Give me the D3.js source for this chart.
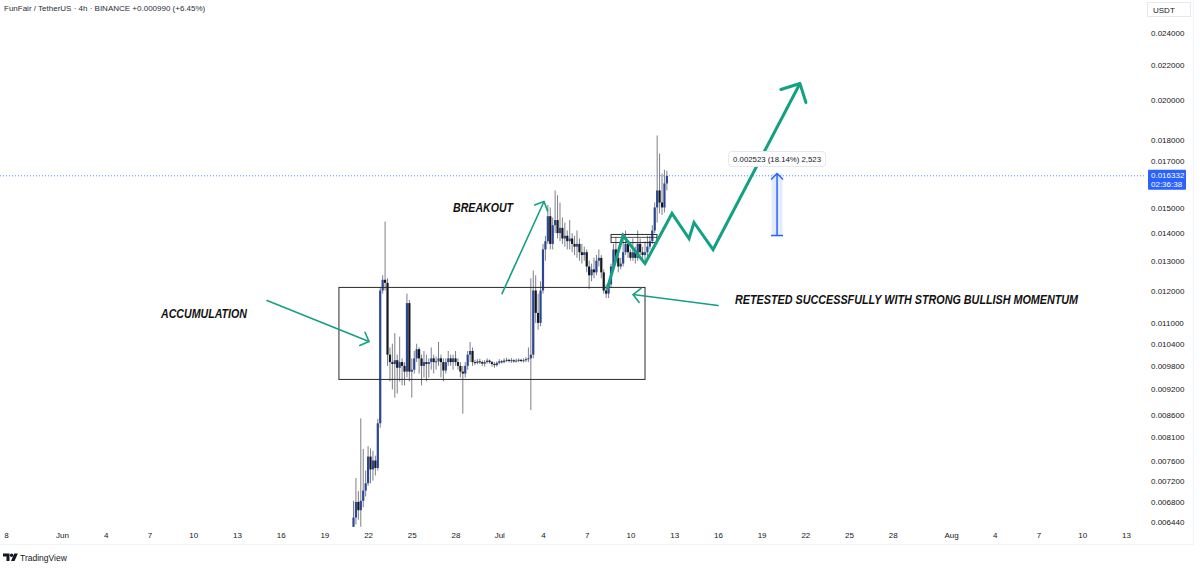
<!DOCTYPE html>
<html><head><meta charset="utf-8">
<script src="https://cdn.jsdelivr.net/npm/d3@7"></script>
<style>
body{margin:0;background:#fff;}
svg{display:block;}
text{font-family:"Liberation Sans",Arial,sans-serif;}
</style>
</head><body>
<svg id="c" width="1200" height="568"></svg>
<script>
// ---------- DATA ----------
const title = "FunFair / TetherUS · 4h · BINANCE";
const changeText = "+0.000990 (+6.45%)";
const quoteUnit = "USDT";
const countdown = "02:36:38";
const firstBar = Date.UTC(2024, 5, 21, 0, 0); // first 4h candle
const barHours = 4;

const open = [
 .00636,.00652,.00680,.00665,.00682,.00701,.00715,.00768,.00742,.00760,
 .00745,.00840,.01200,.01235,.01225,.01010,.00990,.00985,.00995,.00975,
 .00990,.00980,.00965,.01160,.00965,.00970,.01000,.01025,.01000,.00980,
 .00990,.00985,.00990,.01000,.00990,.00992,.01000,.00990,.00968,.00990,
 .01000,.00990,.01000,.00990,.00980,.00965,.00960,.00980,.01010,.01020,
 .00990,.00988,.00992,.00990,.00986,.00990,.00994,.00990,.00985,.00982,
 .00988,.00992,.00990,.00994,.00996,.00993,.00995,.00992,.00994,.00996,
 .00993,.00995,.00998,.01000,.01010,.01200,.01130,.01100,.01200,.01340,
 .01370,.01465,.01360,.01430,.01450,.01400,.01420,.01380,.01390,.01370,
 .01380,.01360,.01350,.01360,.01330,.01320,.01330,.01280,.01250,.01270,
 .01260,.01300,.01310,.01260,.01200,.01190,.01220,.01280,.01340,.01310,
 .01280,.01290,.01330,.01360,.01330,.01310,.01330,.01310,.01360,.01330,
 .01320,.01330,.01350,.01370,.01410,.01500,.01570,.01520,.01500,.01600
];
const high = [
 .00682,.00725,.00700,.00851,.00784,.00740,.00790,.00785,.00780,.00770,
 .00850,.01210,.01250,.01444,.01240,.01030,.01040,.01070,.01010,.01060,
 .01000,.00990,.01190,.01170,.01000,.01020,.01040,.01030,.01010,.01020,
 .01010,.01000,.01030,.01010,.01005,.01045,.01010,.01000,.01000,.01020,
 .01010,.01010,.01020,.01000,.00990,.00980,.00990,.01020,.01045,.01030,
 .00996,.00998,.00999,.00994,.00995,.01000,.00997,.00993,.00990,.00992,
 .00998,.00996,.01000,.01002,.00999,.01001,.00998,.00999,.01000,.00999,
 .01000,.01003,.01030,.01240,.01266,.01250,.01190,.01230,.01360,.01390,
 .01510,.01500,.01460,.01570,.01550,.01520,.01460,.01440,.01410,.01450,
 .01400,.01390,.01410,.01380,.01360,.01350,.01340,.01300,.01290,.01310,
 .01320,.01340,.01320,.01270,.01220,.01230,.01290,.01360,.01386,.01330,
 .01310,.01400,.01410,.01370,.01340,.01380,.01350,.01410,.01380,.01350,
 .01370,.01390,.01390,.01430,.01520,.01820,.01734,.01643,.01660,.01655
];
const low = [
 .00630,.00640,.00648,.00636,.00670,.00690,.00710,.00715,.00720,.00730,
 .00740,.00830,.01190,.01200,.00980,.00940,.00920,.00900,.00910,.00940,
 .00930,.00930,.00950,.00940,.00900,.00960,.00990,.00960,.00930,.00950,
 .00940,.00950,.00970,.00960,.00970,.00980,.00950,.00940,.00960,.00980,
 .00980,.00970,.00980,.00970,.00950,.00862,.00950,.00970,.00990,.00980,
 .00982,.00984,.00985,.00980,.00978,.00986,.00986,.00978,.00975,.00978,
 .00984,.00986,.00987,.00990,.00989,.00988,.00988,.00989,.00990,.00990,
 .00989,.00990,.00990,.00870,.01000,.01100,.01080,.01090,.01190,.01300,
 .01360,.01340,.01340,.01400,.01380,.01370,.01360,.01350,.01340,.01340,
 .01330,.01320,.01310,.01300,.01290,.01300,.01260,.01205,.01230,.01240,
 .01250,.01280,.01240,.01190,.01176,.01176,.01210,.01270,.01300,.01260,
 .01270,.01280,.01320,.01310,.01300,.01300,.01290,.01300,.01320,.01300,
 .01300,.01310,.01340,.01360,.01400,.01440,.01476,.01470,.01480,.01570
];
const close = [
 .00652,.00680,.00665,.00682,.00701,.00715,.00768,.00742,.00760,.00745,
 .00840,.01200,.01235,.01225,.01010,.00990,.00985,.00995,.00975,.00990,
 .00980,.00965,.01160,.00965,.00970,.01000,.01025,.01000,.00980,.00990,
 .00985,.00990,.01000,.00990,.00992,.01000,.00990,.00968,.00990,.01000,
 .00990,.01000,.00990,.00980,.00965,.00960,.00980,.01010,.01020,.00990,
 .00988,.00992,.00990,.00986,.00990,.00994,.00990,.00985,.00982,.00988,
 .00992,.00990,.00994,.00996,.00993,.00995,.00992,.00994,.00996,.00993,
 .00995,.00998,.01000,.01010,.01200,.01130,.01100,.01200,.01340,.01370,
 .01465,.01360,.01430,.01450,.01400,.01420,.01380,.01390,.01370,.01380,
 .01360,.01350,.01360,.01330,.01320,.01330,.01280,.01250,.01270,.01260,
 .01300,.01310,.01260,.01200,.01190,.01220,.01280,.01340,.01310,.01280,
 .01290,.01330,.01360,.01330,.01310,.01330,.01310,.01360,.01330,.01320,
 .01330,.01350,.01370,.01410,.01500,.01570,.01520,.01500,.01600,.016332
];
const lastPrice = 0.016332;

const priceTicks = [0.024,0.022,0.020,0.018,0.017,0.015,0.014,0.013,0.012,0.011,
  0.0104,0.0098,0.0092,0.0086,0.0081,0.0076,0.0072,0.0068,0.00644];
const dateTicks = ["2024-05-28","2024-06-01","2024-06-04","2024-06-07","2024-06-10","2024-06-13",
  "2024-06-16","2024-06-19","2024-06-22","2024-06-25","2024-06-28","2024-07-01","2024-07-04",
  "2024-07-07","2024-07-10","2024-07-13","2024-07-16","2024-07-19","2024-07-22","2024-07-25",
  "2024-07-28","2024-08-01","2024-08-04","2024-08-07","2024-08-10","2024-08-13"];

// annotations in data space: [days after Jun 1, price]
const accumBox = [[19.0, 0.0121],[40.0, 0.00945]];
const smallBox = [[37.67, 0.01395],[40.82, 0.01365]];
const smallBoxMid = 0.01384;
const arrowAccum = [[14.07, 0.01168],[21.06, 0.010464]];
const arrowBreak = [[30.19, 0.0119],[33.07, 0.01524]];
const arrowRetest = [[45.01, 0.011525],[39.18, 0.01187]];
const projection = [[37.39,0.01203],[38.49,0.01391],[40.0,0.0129],[41.85,0.014758],
  [43.02,0.0138],[43.36,0.014405],[44.67,0.013397],[50.63,0.020928]];
const measureDay = 49.06, measureFrom = 0.013909, measureTo = 0.016432;
const labels = [
  {text:"ACCUMULATION", at:[6.79, 0.01116], w:86},
  {text:"BREAKOUT", at:[26.83, 0.0148], w:60},
  {text:"RETESTED SUCCESSFULLY WITH STRONG BULLISH MOMENTUM", at:[46.18, 0.011588], w:343}
];

// ---------- CHART ----------
const svg = d3.select("#c");
const plotRight = 1146, plotBottom = 527;
const day0 = Date.UTC(2024,5,1);
const x = d3.scaleUtc().domain([new Date(day0), new Date(Date.UTC(2024,7,13))]).range([62,1126]);
const y = d3.scaleLog().domain([0.012, 0.024]).range([290.5, 32.5]);
const X = d => x(new Date(day0 + d*86400000));
const P = p => [X(p[0]), y(p[1])];

svg.append("rect").attr("width",1200).attr("height",568).attr("fill","#fff");
const defs = svg.append("defs");
defs.append("clipPath").attr("id","clip")
  .append("rect").attr("x",0).attr("y",0).attr("width",plotRight).attr("height",plotBottom);
defs.append("clipPath").attr("id","xclip")
  .append("rect").attr("x",4.3).attr("y",520).attr("width",1140).attr("height",30);

// faint frame
svg.append("line").attr("x1",0).attr("x2",1193).attr("y1",544.5).attr("y2",544.5).attr("stroke","#f0f3fa");
svg.append("line").attr("x1",1193.5).attr("x2",1193.5).attr("y1",0).attr("y2",545).attr("stroke","#f0f3fa");

const plot = svg.append("g").attr("clip-path","url(#clip)");

// last price dotted line
plot.append("line").attr("x1",0).attr("x2",plotRight)
  .attr("y1",y(lastPrice)).attr("y2",y(lastPrice))
  .attr("stroke","#2962ff").attr("stroke-width",1).attr("stroke-dasharray","1,2").attr("opacity",0.75);

// candles
const bars = open.map((o,i)=>({t:new Date(firstBar + i*barHours*3600000), o, h:high[i], l:low[i], c:close[i]}));
plot.append("g").selectAll("line").data(bars).join("line")
  .attr("x1",d=>x(d.t)).attr("x2",d=>x(d.t))
  .attr("y1",d=>y(d.h)).attr("y2",d=>y(d.l))
  .attr("stroke","#6f727a").attr("stroke-width",0.9);
plot.append("g").selectAll("rect").data(bars).join("rect")
  .attr("x",d=>x(d.t)-1.1).attr("width",2.2)
  .attr("y",d=>y(Math.max(d.o,d.c)))
  .attr("height",d=>Math.max(1, Math.abs(y(d.o)-y(d.c))))
  .attr("fill",d=>d.c>=d.o ? "#2b4694" : "#15171c");

// boxes
const b1a = P(accumBox[0]), b1b = P(accumBox[1]);
plot.append("rect").attr("x",b1a[0]).attr("y",b1a[1]).attr("width",b1b[0]-b1a[0]).attr("height",b1b[1]-b1a[1])
  .attr("fill","none").attr("stroke","#2a2a2a").attr("stroke-width",1);
const b2a = P(smallBox[0]), b2b = P(smallBox[1]);
plot.append("rect").attr("x",b2a[0]).attr("y",b2a[1]).attr("width",b2b[0]-b2a[0]).attr("height",b2b[1]-b2a[1])
  .attr("fill","none").attr("stroke","#2a2a2a").attr("stroke-width",1);
plot.append("line").attr("x1",b2a[0]).attr("x2",b2b[0]).attr("y1",y(smallBoxMid)).attr("y2",y(smallBoxMid))
  .attr("stroke","#2a2a2a").attr("stroke-width",0.8);

const green = "#14a083";
function arrowHead(g, from, tip, len, width){
  const a = Math.atan2(from[1]-tip[1], from[0]-tip[0]);
  const ang = Math.PI/4;
  const p1 = [tip[0]+len*Math.cos(a+ang), tip[1]+len*Math.sin(a+ang)];
  const p2 = [tip[0]+len*Math.cos(a-ang), tip[1]+len*Math.sin(a-ang)];
  g.append("path").attr("d",`M${p1}L${tip}L${p2}`).attr("fill","none")
    .attr("stroke",green).attr("stroke-width",width).attr("stroke-linecap","round").attr("stroke-linejoin","round");
}
function thinArrow(seg){
  const a = P(seg[0]), b = P(seg[1]);
  plot.append("line").attr("x1",a[0]).attr("y1",a[1]).attr("x2",b[0]).attr("y2",b[1])
    .attr("stroke",green).attr("stroke-width",1.6).attr("stroke-linecap","round");
  arrowHead(plot, a, b, 10, 1.6);
}
thinArrow(arrowAccum); thinArrow(arrowBreak); thinArrow(arrowRetest);

const projPts = projection.map(P);
plot.append("path").attr("d", d3.line()(projPts)).attr("fill","none")
  .attr("stroke",green).attr("stroke-width",3).attr("stroke-linejoin","miter");
arrowHead(plot, projPts[projPts.length-2], projPts[projPts.length-1], 20, 3);

// measure tool
const mx = X(measureDay), my0 = y(measureFrom), my1 = y(measureTo);
plot.append("rect").attr("x",mx-5.5).attr("y",my1).attr("width",11).attr("height",my0-my1)
  .attr("fill","#2962ff").attr("opacity",0.13);
plot.append("line").attr("x1",mx).attr("x2",mx).attr("y1",my0).attr("y2",my1).attr("stroke","#2962ff").attr("stroke-width",1.5);
plot.append("line").attr("x1",mx-6).attr("x2",mx+6).attr("y1",my0).attr("y2",my0).attr("stroke","#2962ff").attr("stroke-width",1.5);
plot.append("path").attr("d",`M${mx-6},${my1+6}L${mx},${my1}L${mx+6},${my1+6}`).attr("fill","none")
  .attr("stroke","#2962ff").attr("stroke-width",1.5);
const diff = measureTo - measureFrom;
const mText = `${diff.toFixed(6)} (${(diff/measureFrom*100).toFixed(2)}%) ${d3.format(",")(Math.round(diff*1e6))}`;
const mg = plot.append("g");
mg.append("rect").attr("x",mx-48.5).attr("y",my1-22).attr("width",97).attr("height",15).attr("rx",3)
  .attr("fill","#fff").attr("stroke","#e6e8ee").attr("stroke-width",1);
mg.append("text").attr("x",mx).attr("y",my1-11.5).attr("text-anchor","middle")
  .attr("font-size",7.8).attr("fill","#131722").text(mText);

// text labels
labels.forEach(l=>{
  const p = P(l.at);
  plot.append("text").attr("x",p[0]).attr("y",p[1]).attr("font-size",12).attr("font-weight","bold")
    .attr("font-style","italic").attr("fill","#111").attr("textLength",l.w)
    .attr("lengthAdjust","spacingAndGlyphs").text(l.text);
});

// y axis
const yAxis = d3.axisRight(y).tickValues(priceTicks).tickFormat(d=>d.toFixed(6)).tickSize(0).tickPadding(0);
const ya = svg.append("g").attr("transform","translate(1151,0)").call(yAxis);
ya.select(".domain").remove();
ya.selectAll("text").attr("font-size",8).attr("fill","#131722").attr("font-family","'Liberation Sans',Arial,sans-serif");

// x axis
const fmtDate = d => d.getUTCDate()===1 ? d3.utcFormat("%b")(d) : String(d.getUTCDate());
const xAxis = d3.axisBottom(x).tickValues(dateTicks.map(s=>new Date(s+"T00:00:00Z")))
  .tickFormat(fmtDate).tickSize(0).tickPadding(0);
const xa = svg.append("g").attr("clip-path","url(#xclip)").append("g")
  .attr("transform","translate(0,532)").call(xAxis);
xa.select(".domain").remove();
xa.selectAll("text").attr("font-size",8).attr("fill","#131722").attr("font-family","'Liberation Sans',Arial,sans-serif");

// unit box
svg.append("rect").attr("x",1147.5).attr("y",2.5).attr("width",43).attr("height",14).attr("fill","#fff")
  .attr("stroke","#e6e8ee");
svg.append("text").attr("x",1153).attr("y",12.5).attr("font-size",8).attr("fill","#131722").text(quoteUnit);

// last price label
svg.append("rect").attr("x",1148).attr("y",y(lastPrice)-6).attr("width",38).attr("height",20).attr("fill","#2962ff").attr("rx",1);
svg.append("text").attr("x",1151).attr("y",y(lastPrice)+2.5).attr("font-size",8).attr("fill","#fff").text(lastPrice.toFixed(6));
svg.append("text").attr("x",1151).attr("y",y(lastPrice)+11.5).attr("font-size",8).attr("fill","#fff").text(countdown);

// header
svg.append("text").attr("x",4).attr("y",11).attr("font-size",8).attr("fill","#2a2e39")
  .text(title + "  " + changeText);

// footer logo
const lg = svg.append("g").attr("fill","#131722");
lg.append("path").attr("d","M3,553.5h6.5v7.5h-3v-4.5h-3.5z");
lg.append("circle").attr("cx",11.6).attr("cy",555.3).attr("r",1.7);
lg.append("path").attr("d","M14.3,553.5h3.6l-3.4,7.5h-3.5z");
svg.append("text").attr("x",20).attr("y",560.5).attr("font-size",8.5).attr("fill","#131722").text("TradingView");
</script>
</body></html>
